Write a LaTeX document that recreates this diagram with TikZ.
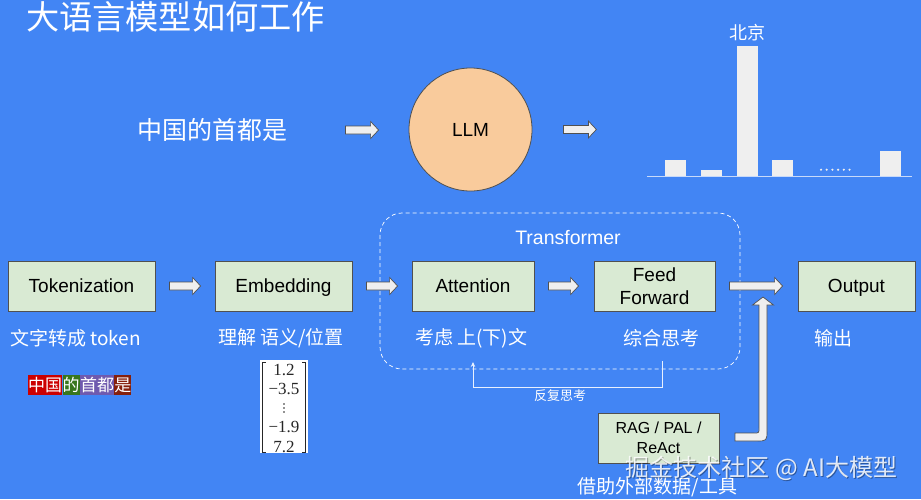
\documentclass[tikz,border=0pt]{standalone}
\usepackage{fontspec}
\setmainfont{Liberation Sans}
\newfontfamily\cjk{Noto Sans CJK SC}
\newfontfamily\vecfont{Liberation Serif}
\usetikzlibrary{calc,arrows.meta}
\definecolor{bg}{HTML}{4285F4}
\definecolor{boxfill}{HTML}{D9EAD3}
\definecolor{boxline}{HTML}{505050}
\definecolor{arrfill}{HTML}{EFEFEF}
\definecolor{llmfill}{HTML}{F9CB9C}
\definecolor{tokred}{HTML}{CC0000}
\definecolor{tokgreen}{HTML}{38761D}
\definecolor{tokpurple}{HTML}{6F5AAE}
\definecolor{tokbrown}{HTML}{85200C}
\newcommand\blockarrow[2]{%
  \path let \p1=(#1), \p2=(#2) in [draw=boxline, fill=arrfill, line width=0.7pt]
    (\x1,\y1+4pt) -- (\x2-8pt,\y1+4pt) -- (\x2-8pt,\y1+8.5pt) -- (\x2,\y1)
    -- (\x2-8pt,\y1-8.5pt) -- (\x2-8pt,\y1-4pt) -- (\x1,\y1-4pt) -- cycle;}
\begin{document}
\begin{tikzpicture}[x=1pt,y=-1pt,
  stagebox/.style={draw=boxline, fill=boxfill, line width=0.8pt, minimum height=50pt,
    inner sep=0pt, align=center, font=\fontsize{19}{23}\selectfont},
  oneline/.style={text height=13.6pt, text depth=0pt},
  cjklabel/.style={text=white, inner sep=0pt, font=\cjk\fontsize{19}{23}\selectfont},
  tokseg/.style={text=white, inner xsep=0pt, inner ysep=0pt, minimum height=20pt,
    anchor=west, font=\cjk\fontsize{17}{20}\selectfont},
  vecentry/.style={inner sep=0pt, text=black!85, font=\vecfont\fontsize{17}{19}\selectfont},
  bracket/.style={draw=black!85, line width=0.9pt},
  bar/.style={fill=arrfill, draw=none}]
\fill[bg] (0,0) rectangle (921,499);
\useasboundingbox (0,0) rectangle (921,499);

% title
\node[cjklabel, anchor=west, font=\cjk\fontsize{33.2}{36}\selectfont] (title) at (26,17) {大语言模型如何工作};

% top row
\node[cjklabel, anchor=west, font=\cjk\fontsize{25}{28}\selectfont] (q) at (137,130) {中国的首都是};
\node[circle, draw=boxline, fill=llmfill, line width=0.8pt, minimum size=123pt, inner sep=0pt,
  font=\fontsize{19}{23}\selectfont] (llm) at (470.5,129.5) {LLM};
\coordinate (t1s) at ($(q.east)+(58,0)$);
\coordinate (t1e) at ($(llm.west)+(-30,0)$);
\blockarrow{t1s}{t1e}
\coordinate (t2s) at ($(llm.east)+(31,0)$);
\coordinate (t2e) at ($(llm.east)+(64,0)$);
\blockarrow{t2s}{t2e}

% bar chart
\draw[draw={rgb,255:red,200;green,218;blue,250}, line width=1pt] (647,176.5) -- (912,176.5);
\fill[bar] (665,160) rectangle (686,176);
\fill[bar] (701,170) rectangle (722,176);
\fill[bar] (737,46) rectangle (758,176);
\fill[bar] (772,160) rectangle (793,176);
\fill[bar] (880,151) rectangle (901,176);
\foreach \i in {0,...,5} {\fill[arrfill] (821+\i*5.7,169.7) circle (1.2pt);}
\node[cjklabel, font=\cjk\fontsize{18}{20}\selectfont] (bj) at (747.5,33) {北京};

% transformer frame
\draw[white, line width=0.7pt, dash pattern=on 4pt off 3pt, rounded corners=22pt]
  (380,213) rectangle (740,369);
\node[text=white, inner sep=0pt, font=\fontsize{19.5}{23}\selectfont] (trf) at (568,238) {Transformer};

% main row boxes
\node[stagebox, oneline, minimum width=147pt] (tok) at (81.5,286) {Tokenization};
\node[stagebox, oneline, minimum width=137pt] (emb) at (283.5,286) {Embedding};
\node[stagebox, oneline, minimum width=122pt] (att) at (473,286) {Attention};
\node[stagebox, minimum width=121pt] (ff) at (654.5,286) {Feed\\Forward};
\node[stagebox, oneline, minimum width=117pt] (out) at (856.5,286) {Output};

\coordinate (a1s) at ($(tok.east)+(14,0)$);
\coordinate (a1e) at ($(emb.west)+(-14,0)$);
\blockarrow{a1s}{a1e}
\coordinate (a2s) at ($(emb.east)+(14,0)$);
\coordinate (a2e) at ($(att.west)+(-14,0)$);
\blockarrow{a2s}{a2e}
\coordinate (a3s) at ($(att.east)+(14,0)$);
\coordinate (a3e) at ($(ff.west)+(-15,0)$);
\blockarrow{a3s}{a3e}
\coordinate (a4s) at ($(ff.east)+(14,0)$);
\coordinate (a4e) at ($(out.west)+(-15,0)$);
\blockarrow{a4s}{a4e}

% labels under boxes
\node[cjklabel, anchor=west] (l1) at (10,338.5) {文字转成 token};
\node[cjklabel, anchor=west] (l2) at (218,338.5) {理解 语义/位置};
\node[cjklabel, anchor=west] (l3) at (415,338.5) {考虑 上(下)文};
\node[cjklabel] (l4) at (661.5,338.5) {综合思考};
\node[cjklabel] (l5) at (833,338.5) {输出};

% feedback loop
\coordinate (fbs) at (662,361);
\coordinate (fbe) at (473,362);
\draw[white!88!bg, line width=0.8pt, -{Stealth[length=5pt,width=4.5pt]}]
  (fbs) -- (662,387) -| (fbe);
\node[cjklabel, font=\cjk\fontsize{13}{15}\selectfont] (fbl) at (560,396) {反复思考};

% tokens
\node[tokseg, fill=tokred] (tk1) at (28,385) {中国};
\node[tokseg, fill=tokgreen] (tk2) at (tk1.east) {的};
\node[tokseg, fill=tokpurple] (tk3) at (tk2.east) {首都};
\node[tokseg, fill=tokbrown] (tk4) at (tk3.east) {是};

% embedding vector
\node[fill=white, inner sep=0pt, minimum width=48pt, minimum height=93pt] (vec) at (284,406.5) {};
\node[vecentry] (v1) at (284,370) {1.2};
\node[vecentry] (v2) at (284,388.5) {−3.5};
\foreach \d in {-4,0,4} {\fill[black!85] (284,408+\d) circle (0.9pt);}
\node[vecentry] (v4) at (284,427) {−1.9};
\node[vecentry] (v5) at (284,446.5) {7.2};
\draw[bracket] ($(vec.north west)+(6,2.5)$) -- ($(vec.north west)+(2.5,2.5)$)
  -- ($(vec.south west)+(2.5,-1)$) -- ($(vec.south west)+(6,-1)$);
\draw[bracket] ($(vec.north east)+(-6,2.5)$) -- ($(vec.north east)+(-2.5,2.5)$)
  -- ($(vec.south east)+(-2.5,-1)$) -- ($(vec.south east)+(-6,-1)$);

% RAG box and bent arrow
\node[stagebox, minimum width=121pt, font=\fontsize{16}{20}\selectfont] (rag) at (658.5,438) {RAG / PAL /\\ReAct};
\draw[draw=boxline, fill=arrfill, line width=0.7pt]
  (735,433) -- (754,433) .. controls (759,433) .. (759,428) -- (759,305) -- (752.5,305)
  -- (763,297) -- (773.5,305) -- (767,305) -- (767,430)
  .. controls (767,441) .. (756,441) -- (735,441) -- cycle;
\node[cjklabel] (ext) at (657.5,487) {借助外部数据/工具};

% watermark
\node[inner sep=0pt, text=black, opacity=0.35, font=\cjk\fontsize{24}{26}\selectfont] (wm0) at (762.5,469) {掘金技术社区 @ AI大模型};
\node[inner sep=0pt, text=white, opacity=0.85, font=\cjk\fontsize{24}{26}\selectfont] (wm) at (761.5,468) {掘金技术社区 @ AI大模型};
\end{tikzpicture}
\end{document}
